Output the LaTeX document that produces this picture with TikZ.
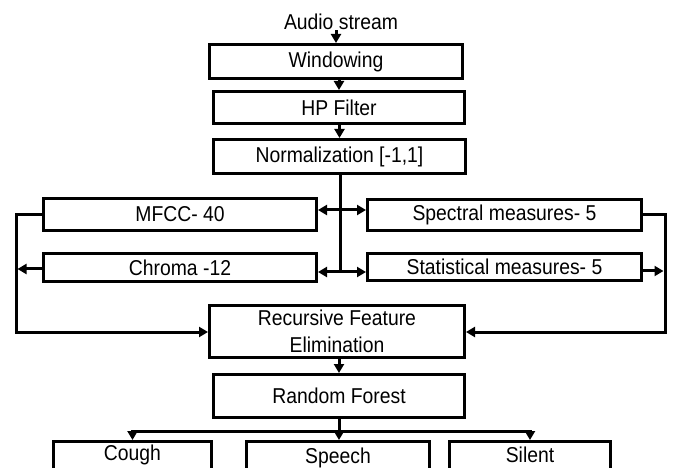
\documentclass[tikz,border=0pt]{standalone}
\usepackage{fontspec}
\setmainfont{Liberation Sans}[FakeStretch=0.9]
\usetikzlibrary{arrows.meta}
\begin{document}
\begin{tikzpicture}[x=1pt,y=-1pt,
  lbl/.style={font=\fontsize{21.5}{28}\selectfont},
  box/.style={draw,line width=3pt,rectangle,inner sep=0pt,align=center,lbl},
  conn/.style={line width=3pt,line cap=rect},
  arr/.style={conn,-{Triangle[length=9pt,width=10pt]}},
  darr/.style={conn,{Triangle[length=9pt,width=10pt]}-{Triangle[length=9pt,width=10pt]}},
]
\useasboundingbox (0,0) rectangle (673,468);
\clip (0,0) rectangle (673,468);

% processing chain
\node[lbl,inner sep=1pt] (audio) at (341,22) {Audio stream};
\node[box,minimum width=253pt,minimum height=34pt] (win)  at (336,61.5)  {Windowing};
\node[box,minimum width=251pt,minimum height=32pt] (hp)   at (339,107.5) {HP Filter};
\node[box,minimum width=252pt,minimum height=34pt] (norm) at (339.5,156.5) {Normalization [-1,1]};

% feature blocks
\node[box,minimum width=273pt,minimum height=32pt] (mfcc)   at (180,214.5) {MFCC- 40};
\node[box,minimum width=273pt,minimum height=28pt] (chroma) at (180,267.5) {Chroma -12};
\node[box,minimum width=274pt,minimum height=31pt] (spec)   at (504.5,215) {Spectral measures- 5};
\node[box,minimum width=274pt,minimum height=27pt] (stat)   at (504.5,267) {Statistical measures- 5};

% selection and classification
\node[box,minimum width=255pt,minimum height=52pt] (rfe) at (337,331.5) {Recursive Feature\\[-0.5pt]Elimination};
\node[box,minimum width=251pt,minimum height=43pt] (rf)  at (339,396) {Random Forest};

% classes
\node[box,minimum width=158pt,minimum height=47pt] (cough)  at (132.5,465) {};
\node[box,minimum width=183pt,minimum height=47pt] (speech) at (338,465) {};
\node[box,minimum width=161pt,minimum height=47pt] (silent) at (530,465) {};
\node[lbl] (tcough)  at (132.5,455) {Cough};
\node[lbl] (tspeech) at (338,458) {Speech};
\node[lbl] (tsilent) at (530,455) {Silent};

% junction points
\coordinate (j1) at (340,210);
\coordinate (j2) at (340,272);
\coordinate (jend) at (340,273.5);
\coordinate (lb) at (16,332);
\coordinate (rb) at (665,332);
\coordinate (lc) at (17.5,269);
\coordinate (rc) at (663.5,271);
\coordinate (split) at (339,431);

% chain arrows
\draw[arr] (win.north |- audio.south) -- (win.north);
\draw[arr] (hp.north |- win.south) -- (hp.north);
\draw[arr] (norm.north |- hp.south) -- (norm.north);

% distribution to feature blocks
\draw[conn,line cap=butt] (norm.south -| j1) -- (jend);
\draw[darr] (mfcc.east |- j1) -- (spec.west |- j1);
\draw[darr] (chroma.east |- j2) -- (stat.west |- j2);

% collection into feature elimination
\draw[arr] (mfcc.west) -| (lb) -- (rfe.west |- lb);
\draw[arr] (chroma.west |- lc) -- (lc);
\draw[arr] (spec.east) -| (rb) -- (rfe.east |- rb);
\draw[arr] (stat.east |- rc) -- (rc);

\draw[arr] (rf.north |- rfe.south) -- (rf.north);

% classifier outputs
\draw[conn] (rf.south) -- (split);
\draw[conn] (split -| cough.north) -- (split -| silent.north);
\draw[arr] (split -| cough.north) -- (cough.north);
\draw[arr] (split) -- (split |- speech.north);
\draw[arr] (split -| silent.north) -- (silent.north);
\end{tikzpicture}
\end{document}
